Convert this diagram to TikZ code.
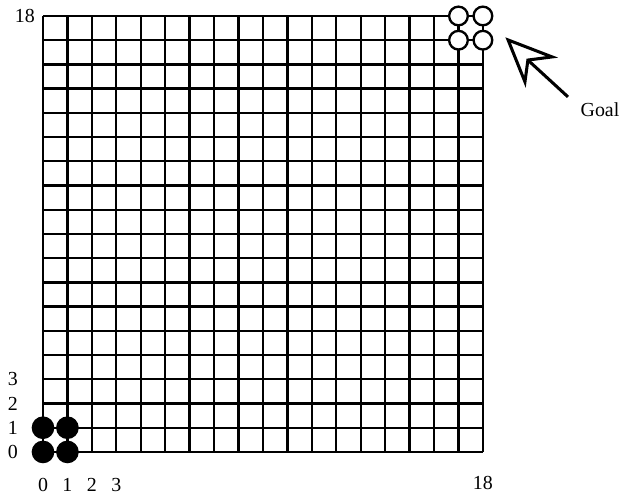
\documentclass[tikz,border=0pt]{standalone}
\usepackage{fontspec}
\setmainfont{Liberation Serif}
\usetikzlibrary{calc,positioning}

\begin{document}
\begin{tikzpicture}[
  x={(0.7332cm,0cm)},
  y={(0cm,0.7266cm)},
  gridline/.style={line width=2pt,black},
  blackstone/.style={
    circle,
    fill=black,
    inner sep=0pt,
    minimum size=0.68cm
  },
  whitestone/.style={
    circle,
    draw=black,
    line width=2pt,
    fill=white,
    inner sep=0pt,
    minimum size=0.56cm
  },
  arrowline/.style={line width=2.6pt,line join=miter,black},
  labelstyle/.style={
    font=\fontsize{17}{20}\selectfont,
    inner sep=0pt
  }
]

% Frame of the page
\useasboundingbox (-1.759,-1.817) rectangle (23.65,18.66);

% Board
\draw[gridline,step={(1,1)}] (0,0) grid (18,18);

% Start position
\node[blackstone] (Szero)  at (0,0) {};
\node[blackstone] (Sone)   at (1,0) {};
\node[blackstone] (Stwo)   at (0,1) {};
\node[blackstone] (Sthree) at (1,1) {};

% Goal position
\node[whitestone] (Gzero)  at (17,17) {};
\node[whitestone] (Gone)   at (18,17) {};
\node[whitestone] (Gtwo)   at (17,18) {};
\node[whitestone] (Gthree) at (18,18) {};

% Row numbers
\node[labelstyle] (Rzero)  at (-1.23,0) {0};
\node[labelstyle] (Rone)   at (-1.23,1) {1};
\node[labelstyle] (Rtwo)   at (-1.23,2) {2};
\node[labelstyle] (Rthree) at (-1.23,3) {3};
\node[labelstyle] (Rtop)   at (-0.74,18) {18};

% Column numbers
\node[labelstyle] (Czero)  at (0,-1.36) {0};
\node[labelstyle] (Cone)   at (1,-1.36) {1};
\node[labelstyle] (Ctwo)   at (2,-1.36) {2};
\node[labelstyle] (Cthree) at (3,-1.36) {3};
\node[labelstyle] (Cend)   at (18,-1.28) {18};

% Label and its arrow
\node[labelstyle] (Goal) at (22.79,14.12) {Goal};

\coordinate (Tip)   at (19.03,17.01);
\coordinate (Rbarb) at (20.83,16.31);
\coordinate (Notch) at (19.84,16.18);
\coordinate (Lbarb) at (19.72,15.28);
\coordinate (Tail)  at (21.48,14.66);

\draw[arrowline] (Tip)--(Rbarb)--(Notch)--(Lbarb)--cycle;
\draw[arrowline] (Notch)--(Tail);
\end{tikzpicture}
\end{document}
